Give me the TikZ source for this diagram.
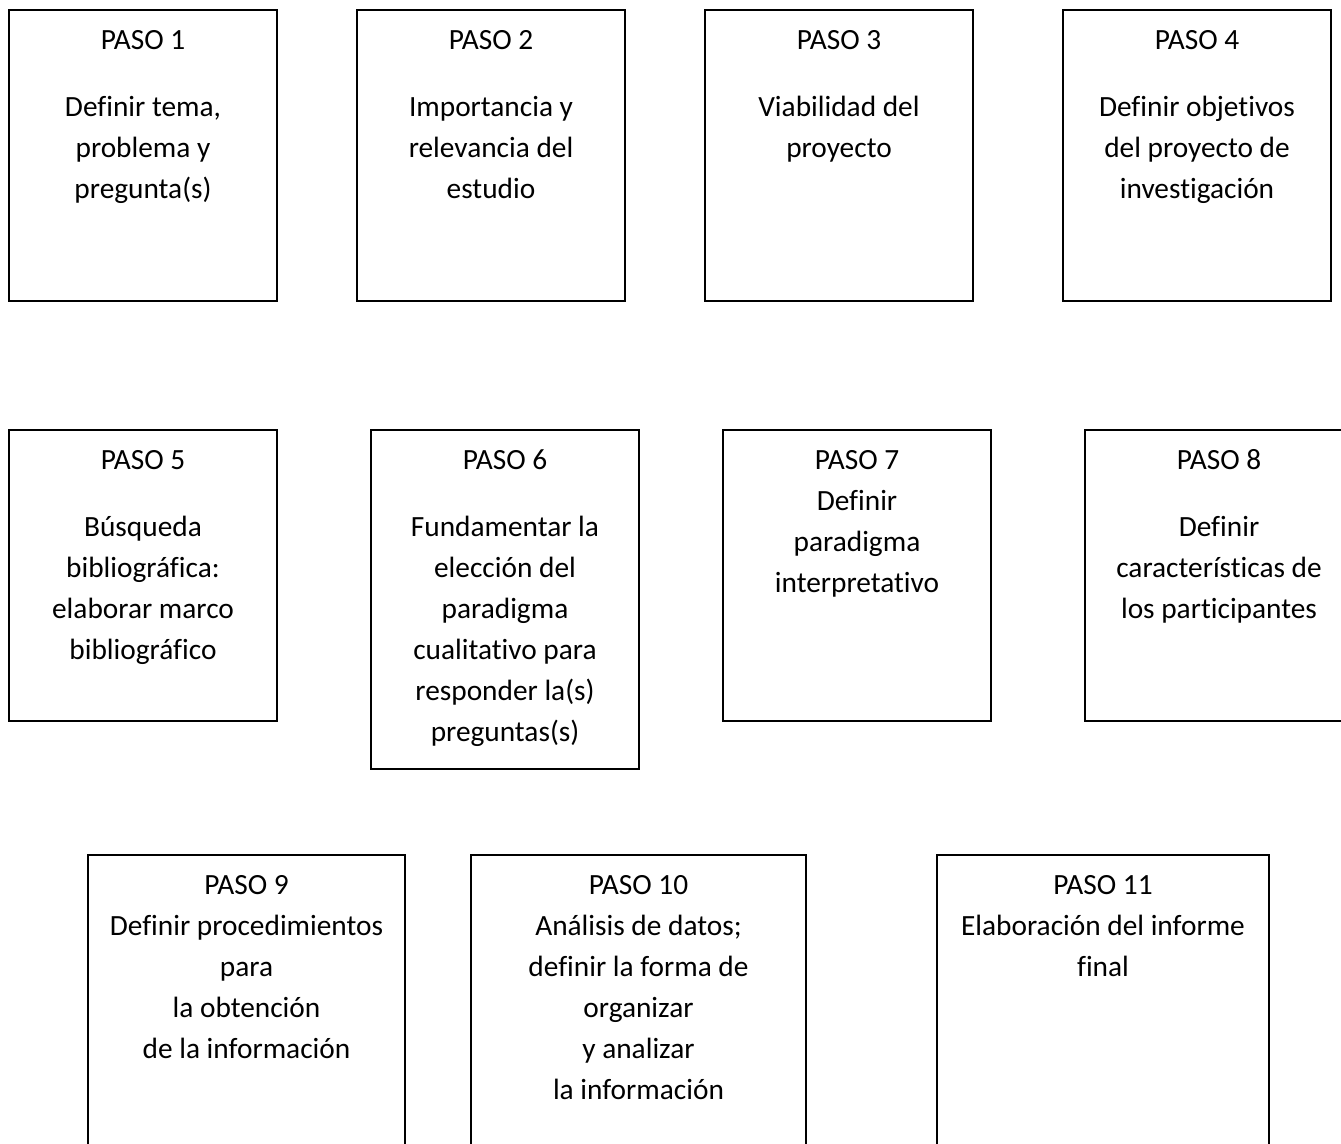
\documentclass[tikz,border=0pt]{standalone}
\usepackage{fontspec}
\setmainfont{Carlito}[Ligatures=NoCommon]
\usetikzlibrary{positioning}

\begin{document}
\begin{tikzpicture}[
    x=0.02cm, y=-0.02cm,
    paso/.style={
        rectangle, draw, line width=1.1pt,
        inner sep=0pt
    },
    pasotext/.style={
        align=center, inner sep=0pt,
        font=\fontsize{16.7}{23.3}\selectfont
    }
]
\useasboundingbox (0,0) rectangle (1341,1143);
\clip (0,0) rectangle (1341,1143);

% boxes: name/x/y/width/height
\foreach \n/\x/\y/\w/\h in {1/143/155.5/5.36/5.82, 2/491/155.5/5.36/5.82,
        3/839/155.5/5.36/5.82, 4/1197/155.5/5.36/5.82,
        5/143/575.5/5.36/5.82, 6/505/599.5/5.36/6.78,
        7/857/575.5/5.36/5.82, 8/1219/575.5/5.36/5.82,
        9/246.5/1010/6.34/6.2, 10/638.5/1010/6.7/6.2,
        11/1103/1010/6.64/6.2}{
    \node[paso, minimum width=\w cm, minimum height=\h cm]
        (p\n) at (\x,\y) {};
}

% texts
\node[pasotext, below=0.23cm of p1.north] (t1)
    {\strut PASO 1\\[0.52cm]Definir tema,\\problema y\\pregunta(s)};
\node[pasotext, below=0.23cm of p2.north] (t2)
    {\strut PASO 2\\[0.52cm]Importancia y\\relevancia del\\estudio};
\node[pasotext, below=0.23cm of p3.north] (t3)
    {\strut PASO 3\\[0.52cm]Viabilidad del\\proyecto};
\node[pasotext, below=0.23cm of p4.north] (t4)
    {\strut PASO 4\\[0.52cm]Definir objetivos\\del proyecto de\\investigación};
\node[pasotext, below=0.23cm of p5.north] (t5)
    {\strut PASO 5\\[0.52cm]Búsqueda\\bibliográfica:\\elaborar marco\\bibliográfico};
\node[pasotext, below=0.23cm of p6.north] (t6)
    {\strut PASO 6\\[0.52cm]Fundamentar la\\elección del\\paradigma\\cualitativo para\\responder la(s)\\preguntas(s)};
\node[pasotext, below=0.23cm of p7.north] (t7)
    {\strut PASO 7\\Definir\\paradigma\\interpretativo};
\node[pasotext, below=0.23cm of p8.north] (t8)
    {\strut PASO 8\\[0.52cm]Definir\\características de\\los participantes};
\node[pasotext, below=0.23cm of p9.north] (t9)
    {\strut PASO 9\\Definir procedimientos\\para\\la obtención\\de la información};
\node[pasotext, below=0.23cm of p10.north] (t10)
    {\strut PASO 10\\Análisis de datos;\\definir la forma de\\organizar\\y analizar\\la información};
\node[pasotext, below=0.23cm of p11.north] (t11)
    {\strut PASO 11\\Elaboración del informe\\final};
\end{tikzpicture}
\end{document}
